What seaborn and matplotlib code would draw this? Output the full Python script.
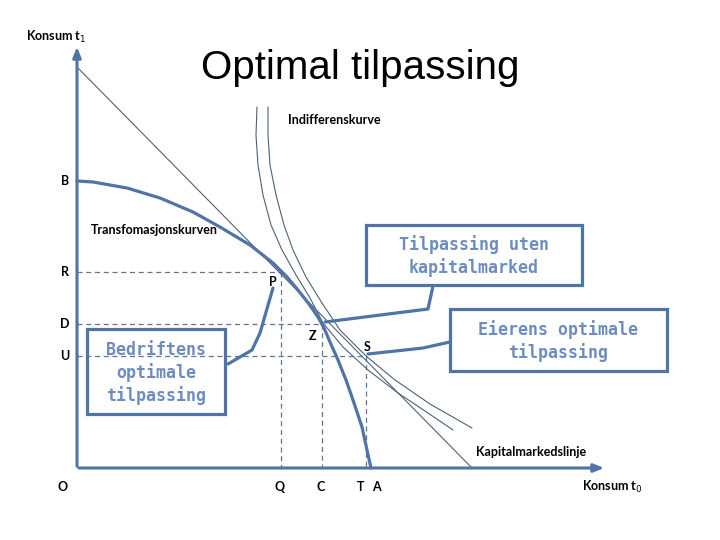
import matplotlib
matplotlib.use("Agg")
import matplotlib.pyplot as plt
from matplotlib.patches import Rectangle
import seaborn as sns

# --- data (pixel units, y grows downwards) ---
transform_x = [77, 93, 110, 127, 160, 193, 220, 250, 273, 287, 298, 309, 318, 324, 330, 338, 346, 353, 362, 367, 371]
transform_y = [181, 182, 185, 188, 198, 212, 227, 245, 263, 277, 290, 304, 317, 328, 342, 360, 380, 400, 427, 450, 468]

indiff1_x = [257, 256, 258, 263, 271, 282, 296, 310, 323, 343, 368, 398, 428, 453]
indiff1_y = [107, 135, 165, 195, 225, 250, 275, 298, 323, 347, 370, 393, 413, 430]

indiff2_x = [268, 268, 270, 276, 284, 293, 306, 322, 340, 366, 395, 430, 472]
indiff2_y = [107, 135, 165, 195, 225, 250, 277, 303, 330, 356, 380, 404, 428]

capline_x = [78, 472]
capline_y = [68, 468]

# point levels: P, Z, S
points = ["P", "Z", "S"]
points_x = [281, 322, 366]
points_y = [272, 324, 356]
y_labels = ["R", "D", "U"]
x_labels = ["Q", "C", "T"]

origin = (77, 468)
blue = "#4f74a6"
dash_col = "#5f7591"
thin_col = "#4c6279"
box_text_col = "#6d8dc0"

sns.set_theme(style="white")
plt.rcParams["font.family"] = ["Lato", "DejaVu Sans"]

fig = plt.figure(figsize=(7.2, 5.4), dpi=100)
ax = fig.add_axes([0, 0, 1, 1])
ax.set_xlim(0, 720)
ax.set_ylim(540, 0)
ax.axis("off")

# dashed helper lines
for px, py in zip(points_x, points_y):
    ax.plot([origin[0], px], [py, py], ls=(0, (4, 3)), lw=0.9, color=dash_col)
    ax.plot([px, px], [py, origin[1]], ls=(0, (4, 3)), lw=0.9, color=dash_col)

# thin lines: indifference curves and capital market line
sns.lineplot(x=indiff1_x, y=indiff1_y, sort=False, ax=ax, color=thin_col, lw=0.8, estimator=None)
sns.lineplot(x=indiff2_x, y=indiff2_y, sort=False, ax=ax, color=thin_col, lw=0.8, estimator=None)
sns.lineplot(x=capline_x, y=capline_y, sort=False, ax=ax, color=thin_col, lw=0.8, estimator=None)

# transformation curve
sns.lineplot(x=transform_x, y=transform_y, sort=False, ax=ax, color=blue, lw=2.3, estimator=None)

# axes with arrows
ax.annotate("", xy=(77, 44), xytext=(77, 469),
            arrowprops=dict(arrowstyle="-|>,head_length=0.5,head_width=0.2", color=blue, lw=2.2))
ax.annotate("", xy=(607, 468), xytext=(76, 468),
            arrowprops=dict(arrowstyle="-|>,head_length=0.5,head_width=0.2", color=blue, lw=2.2))

# call-out lines
ax.plot([433, 428, 325], [286, 309, 322], color=blue, lw=2.3, solid_joinstyle="round")
ax.plot([450, 423, 368], [342, 348, 354], color=blue, lw=2.3, solid_joinstyle="round")
ax.plot([228, 252, 260, 273], [364, 350, 333, 288], color=blue, lw=2.3, solid_joinstyle="round")

# boxes
boxes = [
    ((366, 225), 216, 60, "Tilpassing uten\nkapitalmarked", (474, 256)),
    ((450, 309), 217, 62, "Eierens optimale\ntilpassing", (558, 341)),
    ((87, 329), 138, 85, "Bedriftens\noptimale\ntilpassing", (156, 373)),
]
for (bx, by), bw, bh, txt, (tx, ty) in boxes:
    ax.add_patch(Rectangle((bx, by), bw, bh, fill=False, edgecolor=blue, lw=2.3))
    ax.text(tx, ty, txt, ha="center", va="center", color=box_text_col, fontsize=12,
            fontweight="bold", family="DejaVu Sans Mono", linespacing=1.25)

# title and labels
ax.text(360, 68, "Optimal tilpassing", ha="center", va="center", fontsize=29,
        family="Liberation Sans", color="black")
lab = dict(ha="center", va="center", fontsize=9, fontweight="bold", color="black")
ax.text(56, 37, "Konsum t$_1$", **lab)
ax.text(612, 487, "Konsum t$_0$", **lab)
ax.text(334, 120, "Indifferenskurve", **lab)
ax.text(154, 230, "Transfomasjonskurven", **lab)
ax.text(531, 452, "Kapitalmarkedslinje", **lab)
ax.text(65, 181, "B", **lab)
ax.text(63, 487, "O", **lab)
ax.text(376, 487, "A", **lab)
for name, py in zip(y_labels, points_y):
    ax.text(65, py, name, **lab)
for name, px in zip(x_labels, points_x):
    ax.text(px - 1 if name != "T" else px - 5, 487, name, **lab)
for name, px, py, dx, dy in zip(points, points_x, points_y, [-8, -9, 1], [10, 12, -9]):
    ax.text(px + dx, py + dy, name, **lab)

fig.savefig("out.png", dpi=100)
